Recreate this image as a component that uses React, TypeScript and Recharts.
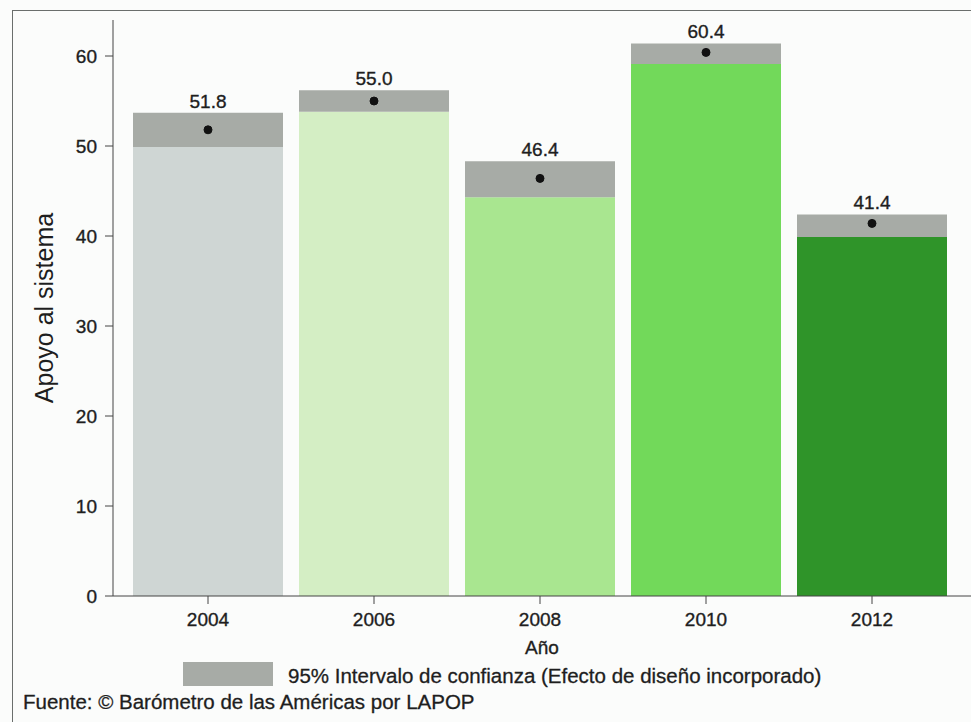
import React from "react";
import { ComposedChart, Bar, Line, XAxis, YAxis, Cell, LabelList } from "recharts";

const years = ["2004", "2006", "2008", "2010", "2012"];
const means = [51.8, 55.0, 46.4, 60.4, 41.4];
const lower = [49.9, 53.8, 44.3, 59.1, 39.9];
const upper = [53.7, 56.2, 48.3, 61.4, 42.4];
const barColors = ["#cfd6d4", "#d4eec4", "#a9e690", "#72d95a", "#2f9429"];
const yTicks = [0, 10, 20, 30, 40, 50, 60];

const data = years.map((y, i) => ({
  year: y,
  base: lower[i],
  band: +(upper[i] - lower[i]).toFixed(2),
  mean: means[i],
}));

const font = "'Liberation Sans', Arial, sans-serif";
const ink = "#1e1e1e";
const heavy = { stroke: ink, strokeWidth: 0.35 };

export default function App() {
  return (
    <div style={{ position: "absolute", left: 0, top: 0, width: 971, height: 722, background: "#fbfcfb", fontFamily: font, overflow: "hidden" }}>
      <div style={{ position: "absolute", left: 12, top: 10, width: 980, height: 720, border: "1.5px solid #6a6e6c", boxSizing: "border-box" }} />
      <ComposedChart width={971} height={722} data={data} margin={{ top: 20, right: 0, bottom: 66, left: 0 }}>
        <XAxis dataKey="year" height={60} padding={{ left: 12, right: 16 }} tickSize={8} tickMargin={9} stroke="#444"
          tick={{ fill: ink, fontSize: 19, fontFamily: font, ...heavy }}
          label={{ value: "Año", position: "insideBottom", offset: 2, fill: ink, fontSize: 19, fontFamily: font, ...heavy }} />
        <YAxis domain={[0, 64]} ticks={yTicks} width={113} tickSize={8} tickMargin={8} stroke="#444"
          tick={{ fill: ink, fontSize: 19, fontFamily: font, ...heavy }}
          label={{ value: "Apoyo al sistema", angle: -90, position: "insideLeft", offset: 44, fill: ink, fontSize: 25, fontFamily: font, style: { textAnchor: "middle" } }} />
        <Bar dataKey="base" stackId="a" barSize={150} isAnimationActive={false}>
          {data.map((d, i) => <Cell key={d.year} fill={barColors[i]} />)}
        </Bar>
        <Bar dataKey="band" stackId="a" barSize={150} fill="#a7aba6" isAnimationActive={false}>
          <LabelList dataKey="mean" position="top" offset={5} fill={ink} fontSize={19} fontFamily={font}
            stroke={ink} strokeWidth={0.35}
            formatter={(v: any) => Number(v).toFixed(1)} />
        </Bar>
        <Line dataKey="mean" stroke="none" isAnimationActive={false} legendType="none"
          dot={{ r: 4, fill: "#111", stroke: "#111" }} activeDot={false} />
      </ComposedChart>
      <div style={{ position: "absolute", left: 183, top: 662, width: 90, height: 24, background: "#a7aba6" }} />
      <div style={{ position: "absolute", left: 288, top: 664, fontSize: 20.5, color: ink, whiteSpace: "nowrap", WebkitTextStroke: "0.3px #1e1e1e" }}>
        95% Intervalo de confianza (Efecto de diseño incorporado)
      </div>
      <div style={{ position: "absolute", left: 23, top: 690, fontSize: 20.5, color: ink, whiteSpace: "nowrap", WebkitTextStroke: "0.3px #1e1e1e" }}>
        Fuente: © Barómetro de las Américas por LAPOP
      </div>
    </div>
  );
}
